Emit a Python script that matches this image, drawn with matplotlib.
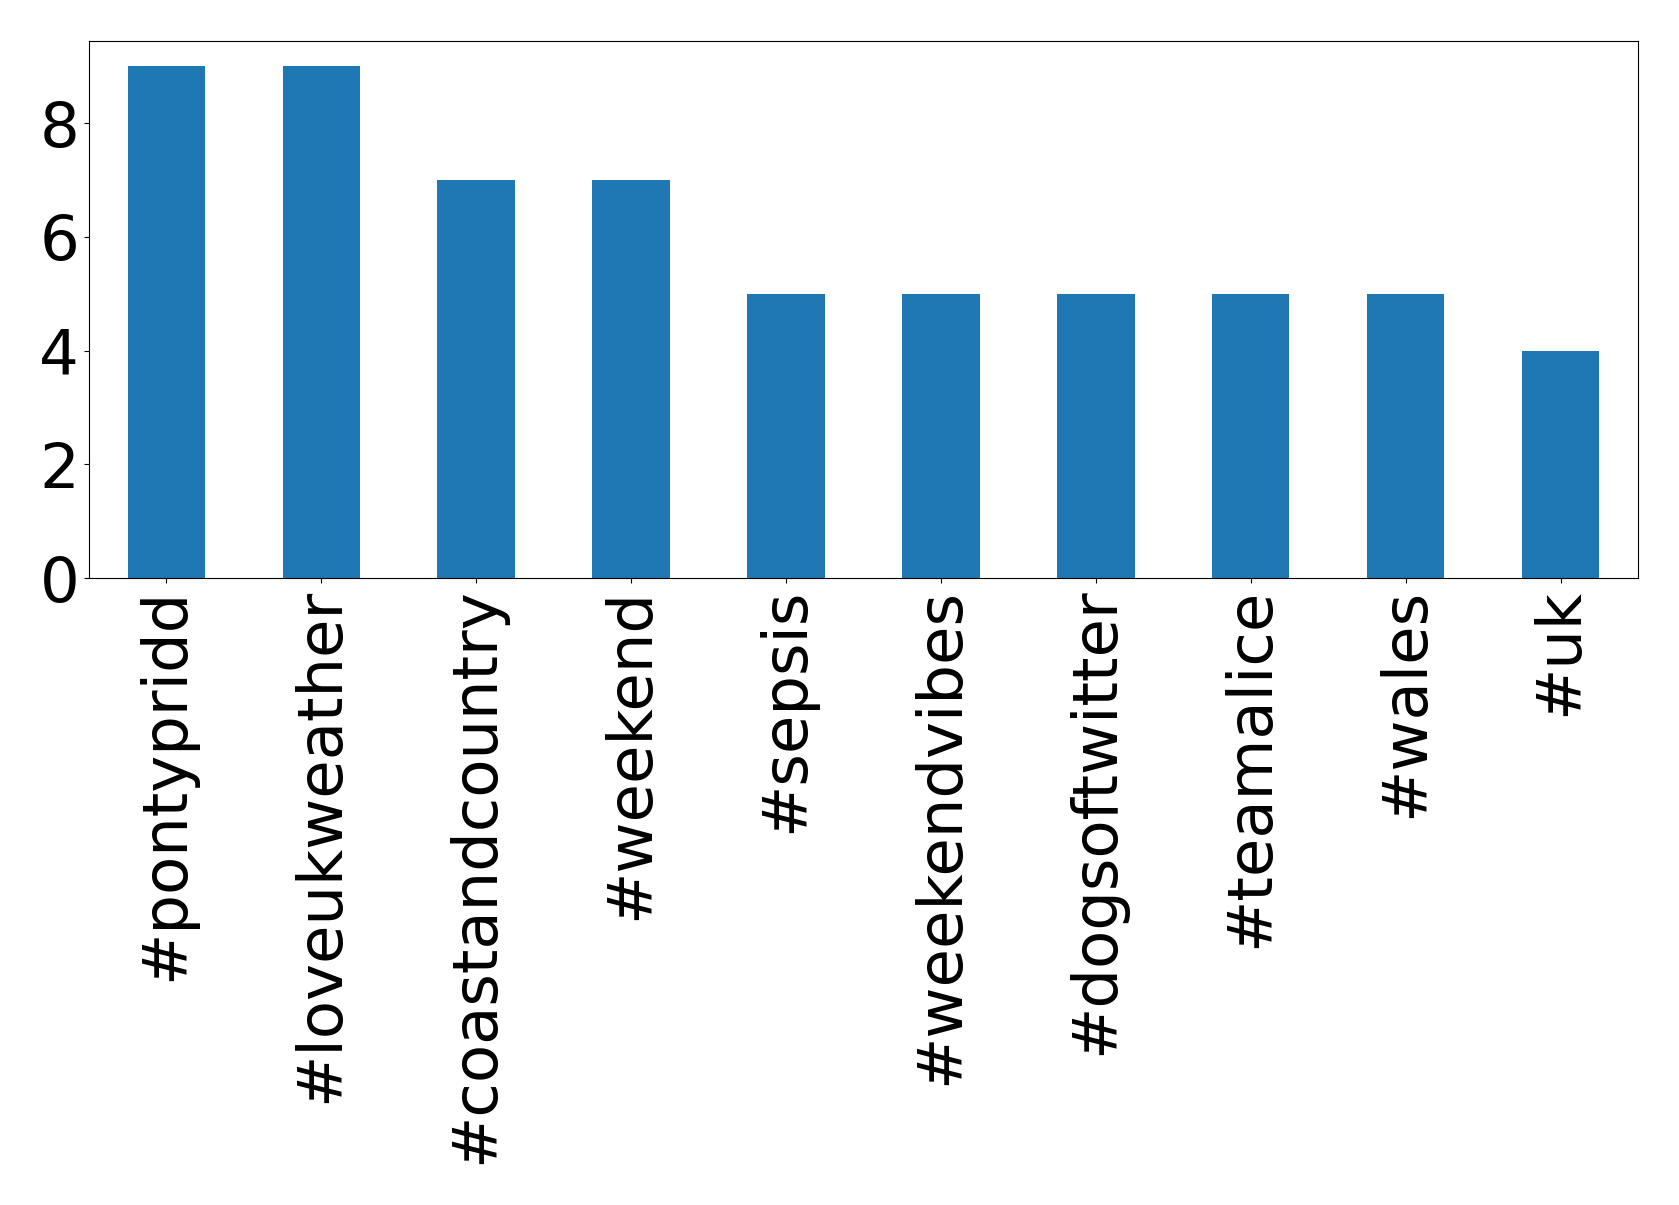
import matplotlib
matplotlib.use("Agg")
import matplotlib.pyplot as plt

tags = ["#pontypridd", "#loveukweather", "#coastandcountry", "#weekend", "#sepsis",
        "#weekendvibes", "#dogsoftwitter", "#teamalice", "#wales", "#uk"]
counts = [9, 9, 7, 7, 5, 5, 5, 5, 5, 4]

fig = plt.figure(figsize=(16.79, 12.05), dpi=100)
ax = fig.add_axes([88.9/1679, 1 - 578/1205, (1638-88.9)/1679, (578-40.7)/1205])
x = list(range(len(tags)))
ax.bar(x, counts, width=0.5, color="#1f77b4")
ax.set_xlim(-0.5, len(tags) - 0.5)
ax.set_ylim(0, 9.45)
ax.set_xticks(x)
ax.set_xticklabels(tags, rotation=90)
ax.set_yticks([0, 2, 4, 6, 8])
ax.tick_params(labelsize=45)
fig.savefig("out.png", dpi=100)
